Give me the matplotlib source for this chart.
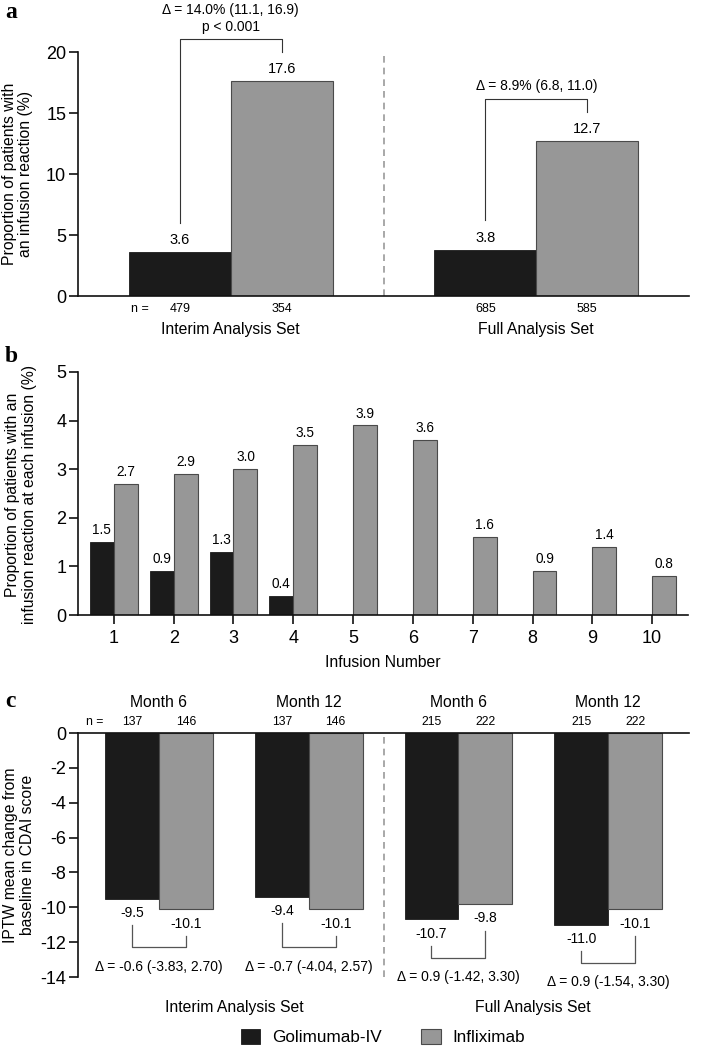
import numpy as np
import matplotlib
matplotlib.use("Agg")
import matplotlib.pyplot as plt
from matplotlib.patches import Patch
from matplotlib.transforms import blended_transform_factory

plt.rcParams['font.family'] = ['Liberation Sans', 'DejaVu Sans']
plt.rcParams['axes.unicode_minus'] = False

# ---------------- data ----------------
sets = ['Interim Analysis Set', 'Full Analysis Set']
a_golim = [3.6, 3.8]
a_infl = [17.6, 12.7]
a_n_golim = [479, 685]
a_n_infl = [354, 585]
a_delta = ['Δ = 14.0% (11.1, 16.9)\np < 0.001', 'Δ = 8.9% (6.8, 11.0)']

b_infusion = [1, 2, 3, 4, 5, 6, 7, 8, 9, 10]
b_golim = [1.5, 0.9, 1.3, 0.4, np.nan, np.nan, np.nan, np.nan, np.nan, np.nan]
b_infl = [2.7, 2.9, 3.0, 3.5, 3.9, 3.6, 1.6, 0.9, 1.4, 0.8]

c_months = ['Month 6', 'Month 12', 'Month 6', 'Month 12']
c_golim = [-9.5, -9.4, -10.7, -11.0]
c_infl = [-10.1, -10.1, -9.8, -10.1]
c_n_golim = [137, 137, 215, 215]
c_n_infl = [146, 146, 222, 222]
c_delta = ['Δ = -0.6 (-3.83, 2.70)', 'Δ = -0.7 (-4.04, 2.57)',
           'Δ = 0.9 (-1.42, 3.30)', 'Δ = 0.9 (-1.54, 3.30)']

series = ['Golimumab-IV', 'Infliximab']

# ---------------- style ----------------
BLACK = '#1b1b1b'
GRAY = '#979797'
EDGE = '#4a4a4a'
W, H = 708, 1049

def rect(l, t, r, b):
    return [l / W, 1 - b / H, (r - l) / W, (b - t) / H]

fig = plt.figure(figsize=(W / 100, H / 100), dpi=100)

def style_axes(ax):
    for s in ax.spines.values():
        s.set_linewidth(1.2)
        s.set_color('#111111')
    ax.tick_params(direction='out', length=6.5, width=1.2, labelsize=13, pad=2,
                   color='#111111')

# ================= panel a =================
axa = fig.add_axes(rect(78, 52, 689, 296))
style_axes(axa)
axa.spines['top'].set_visible(False)
axa.spines['right'].set_visible(False)
centers_a = np.array([1.5, 4.5])
bw = 1.0
axa.bar(centers_a - bw / 2, a_golim, width=bw, color=BLACK, edgecolor=BLACK, linewidth=0.6)
axa.bar(centers_a + bw / 2, a_infl, width=bw, color=GRAY, edgecolor=EDGE, linewidth=0.8)
axa.set_xlim(0, 6)
axa.set_ylim(0, 20)
axa.set_yticks([0, 5, 10, 15, 20])
axa.set_xticks([])
axa.axvline(3.0, color='#9a9a9a', lw=1.2, ls=(0, (4, 3)))
trans_a = blended_transform_factory(axa.transData, axa.transAxes)
for i, c in enumerate(centers_a):
    g, f = a_golim[i], a_infl[i]
    axa.annotate(f'{g:.1f}', (c - bw / 2, g), xytext=(0, 3.5), textcoords='offset points',
                 ha='center', va='bottom', fontsize=10.5)
    axa.annotate(f'{f:.1f}', (c + bw / 2, f), xytext=(0, 3.5), textcoords='offset points',
                 ha='center', va='bottom', fontsize=10.5)
    top = max(g, f) + 3.45
    axa.plot([c - bw / 2, c - bw / 2, c + bw / 2, c + bw / 2],
             [g + 2.4, top, top, f + 2.4], color='#333333', lw=0.8, clip_on=False)
    axa.annotate(a_delta[i], (c, top), xytext=(0, 4), textcoords='offset points',
                 ha='center', va='bottom', fontsize=10, linespacing=1.2,
                 annotation_clip=False)
    axa.text(c - bw / 2, -0.052, str(a_n_golim[i]), transform=trans_a,
             ha='center', va='center', fontsize=9)
    axa.text(c + bw / 2, -0.052, str(a_n_infl[i]), transform=trans_a,
             ha='center', va='center', fontsize=9)
    axa.text(c, -0.139, sets[i], transform=trans_a, ha='center', va='center', fontsize=11.3)
axa.text(0.61, -0.052, 'n =', transform=trans_a, ha='center', va='center', fontsize=9)

fig.text(17.5 / W, 1 - 174 / H, 'Proportion of patients with\nan infusion reaction (%)',
         rotation=90, ha='center', va='center', fontsize=11.3, linespacing=1.1,
         multialignment='center')

# ================= panel b =================
axb = fig.add_axes(rect(78, 372, 688, 615))
style_axes(axb)
axb.spines['top'].set_visible(False)
axb.spines['right'].set_visible(False)
xb = np.array(b_infusion, dtype=float)
bwb = 0.4
axb.bar(xb - bwb / 2, b_golim, width=bwb, color=BLACK, edgecolor=BLACK, linewidth=0.6)
axb.bar(xb + bwb / 2, b_infl, width=bwb, color=GRAY, edgecolor=EDGE, linewidth=0.8)
axb.set_xlim(0.4, 10.6)
axb.set_ylim(0, 5)
axb.set_yticks([0, 1, 2, 3, 4, 5])
axb.set_xticks(b_infusion)
axb.tick_params(axis='x', pad=4)
for x, g, f in zip(xb, b_golim, b_infl):
    if not np.isnan(g):
        axb.annotate(f'{g:.1f}', (x - bwb / 2, g), xytext=(0, 3.5), textcoords='offset points',
                     ha='center', va='bottom', fontsize=9.8)
    axb.annotate(f'{f:.1f}', (x + bwb / 2, f), xytext=(0, 3.5), textcoords='offset points',
                 ha='center', va='bottom', fontsize=9.8)
axb.set_xlabel('Infusion Number', fontsize=11.3, labelpad=6)

fig.text(21 / W, 1 - 495 / H,
         'Proportion of patients with an\ninfusion reaction at each infusion (%)',
         rotation=90, ha='center', va='center', fontsize=11.3, linespacing=1.1,
         multialignment='center')

# ================= panel c =================
axc = fig.add_axes(rect(78, 733, 689, 977))
style_axes(axc)
axc.spines['bottom'].set_visible(False)
axc.spines['right'].set_visible(False)
xc = np.arange(len(c_months), dtype=float)
bwc = 0.36
axc.bar(xc - bwc / 2, c_golim, width=bwc, color=BLACK, edgecolor=BLACK, linewidth=0.6)
axc.bar(xc + bwc / 2, c_infl, width=bwc, color=GRAY, edgecolor=EDGE, linewidth=0.8)
axc.set_xlim(-0.541, 3.54)
axc.set_ylim(-14, 0)
axc.set_yticks(list(range(0, -15, -2)))
axc.set_yticklabels([str(v) for v in range(0, -15, -2)])
axc.set_xticks([])
axc.axvline(1.5, color='#9a9a9a', lw=1.2, ls=(0, (4, 3)))
trans_c = blended_transform_factory(axc.transData, axc.transAxes)
for i, x in enumerate(xc):
    g, f = c_golim[i], c_infl[i]
    axc.annotate(f'{g:.1f}', (x - bwc / 2, g), xytext=(0, -5.5), textcoords='offset points',
                 ha='center', va='top', fontsize=10)
    axc.annotate(f'{f:.1f}', (x + bwc / 2, f), xytext=(0, -5.5), textcoords='offset points',
                 ha='center', va='top', fontsize=10)
    bot = min(g, f) - 2.2
    axc.plot([x - bwc / 2, x - bwc / 2, x + bwc / 2, x + bwc / 2],
             [g - 1.5, bot, bot, f - 1.55], color='#555555', lw=0.9, clip_on=False)
    axc.text(x, bot - 1.1, c_delta[i], ha='center', va='center', fontsize=10, clip_on=False)
    axc.text(x, 1.123, c_months[i], transform=trans_c, ha='center', va='center', fontsize=11.3)
    axc.text(x - bwc / 2, 1.045, str(c_n_golim[i]), transform=trans_c,
             ha='center', va='center', fontsize=8.8)
    axc.text(x + bwc / 2, 1.045, str(c_n_infl[i]), transform=trans_c,
             ha='center', va='center', fontsize=8.8)
axc.text(-0.43, 1.045, 'n =', transform=trans_c, ha='center', va='center', fontsize=8.8)
axc.text(0.5, -0.123, sets[0], transform=trans_c, ha='center', va='center', fontsize=11.3)
axc.text(2.5, -0.123, sets[1], transform=trans_c, ha='center', va='center', fontsize=11.3)

fig.text(19 / W, 1 - 855 / H, 'IPTW mean change from\nbaseline in CDAI score',
         rotation=90, ha='center', va='center', fontsize=11.3, linespacing=1.1,
         multialignment='center')

# legend
handles = [Patch(facecolor=BLACK, edgecolor=BLACK, linewidth=0.6),
           Patch(facecolor=GRAY, edgecolor=EDGE, linewidth=0.8)]
fig.legend(handles, series, loc='center', bbox_to_anchor=(383 / W, 1 - 1037 / H),
           ncol=2, frameon=False, fontsize=12.3, handlelength=1.15, handleheight=1.0,
           handletextpad=0.7, columnspacing=2.3)

# panel letters
for letter, ybase in [('a', 18), ('b', 362), ('c', 707)]:
    fig.text(5 / W, 1 - ybase / H, letter, fontsize=17, fontweight='bold',
             family=['Liberation Serif', 'DejaVu Serif'], ha='left', va='baseline')

fig.savefig('out.png', dpi=100)
